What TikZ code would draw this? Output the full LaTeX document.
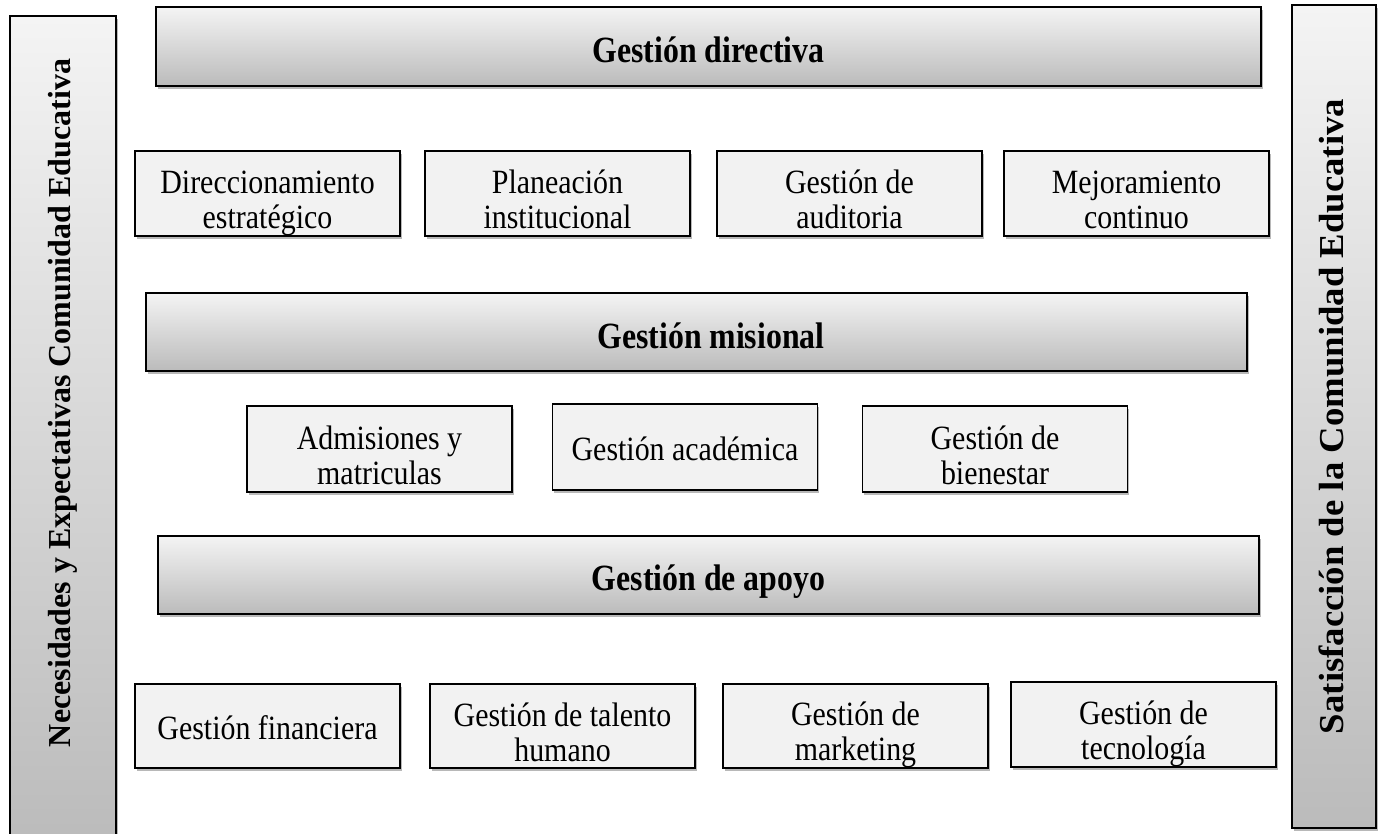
\documentclass[tikz,border=0pt]{standalone}
\usepackage{fontspec}
\setmainfont{Liberation Serif}
\newfontfamily\cfont[FakeStretch=0.88]{Liberation Serif}
\newfontfamily\bfont[FakeStretch=0.86]{Liberation Serif}
\newfontfamily\wfont[FakeStretch=1.05]{Liberation Serif}
\usetikzlibrary{shadows}
\definecolor{boxfill}{HTML}{F2F2F2}
\definecolor{gtop}{HTML}{F4F4F4}
\definecolor{gbot}{HTML}{BBBBBB}
% struts so that every box places its baselines the same way
\newcommand{\twol}[2]{\rule{0pt}{42pt}#1\\#2\rule[-6pt]{0pt}{6pt}}
\newcommand{\onel}[1]{\rule{0pt}{32pt}#1\rule[-6pt]{0pt}{6pt}}
\newcommand{\barl}[1]{\rule{0pt}{39pt}#1\rule[-7pt]{0pt}{7pt}}
\newcommand{\sidel}[1]{\rule{0pt}{22pt}#1}
\begin{document}
\begin{tikzpicture}[x=1pt,y=-1pt,
  base/.style={draw=black, line width=1.6pt, inner sep=0pt, outer sep=0pt},
  shad/.style={drop shadow={shadow xshift=1.5pt, shadow yshift=-3pt, opacity=0.28, fill=black}},
  barfont/.style={font=\bfont\fontsize{37}{42}\selectfont\bfseries},
  bar/.style={base, shad, top color=gtop, bottom color=gbot, barfont},
  sbox/.style={base, shad, fill=boxfill, align=center, minimum width=265pt, font=\cfont\fontsize{34}{35}\selectfont},
  side/.style={base, shad, top color=gtop, bottom color=gbot},
]
\fill[white] (0,0) rectangle (1381,834);
\useasboundingbox (0,0) rectangle (1381,834);

% side columns
\node[side, minimum width=106pt, minimum height=829pt,
  label={[inner sep=0pt, yshift=27.5pt, rotate=90, font=\fontsize{32}{32}\selectfont\bfseries]center:\sidel{Necesidades y Expectativas Comunidad Educativa}}]
  (nec) at (63,430.5) {};
\node[side, minimum width=84pt, minimum height=823pt,
  label={[inner sep=0pt, xshift=-3pt, rotate=90, font=\wfont\fontsize{35}{35}\selectfont\bfseries]center:\sidel{Satisfacción de la Comunidad Educativa}}]
  (sat) at (1334,416.5) {};

% Gestión directiva
\node[bar, minimum width=1105pt, minimum height=79pt] (dir) at (708.5,46.5) {\barl{Gestión directiva}};
\node[sbox, minimum height=85pt] (d1) at (267.5,193.5) {\twol{Direccionamiento}{estratégico}};
\node[sbox, minimum height=85pt] (d2) at (557.5,193.5) {\twol{Planeación}{institucional}};
\node[sbox, minimum height=85pt] (d3) at (849.5,193.5) {\twol{Gestión de}{auditoria}};
\node[sbox, minimum height=85pt] (d4) at (1136.5,193.5) {\twol{Mejoramiento}{continuo}};

% Gestión misional
\node[bar, minimum width=1101pt, minimum height=78pt,
  label={[name=mist, barfont, inner sep=0pt, xshift=14.5pt]center:\barl{Gestión misional}}] (mis) at (696.5,332) {};
\node[sbox, minimum height=86pt] (m1) at (379.5,449) {\twol{Admisiones y}{matriculas}};
\node[sbox, minimum height=86pt] (m2) at (685,447) {\onel{Gestión académica}};
\node[sbox, minimum height=86pt] (m3) at (995,449) {\twol{Gestión de}{bienestar}};

% Gestión de apoyo
\node[bar, minimum width=1101pt, minimum height=78pt] (apo) at (708.5,575) {\barl{Gestión de apoyo}};
\node[sbox, minimum height=84pt] (a1) at (267.5,726) {\onel{Gestión financiera}};
\node[sbox, minimum height=84pt] (a2) at (562.5,726) {\twol{Gestión de talento}{humano}};
\node[sbox, minimum height=84pt] (a3) at (855.5,726) {\twol{Gestión de}{marketing}};
\node[sbox, minimum height=85pt] (a4) at (1143.5,724.5) {\twol{Gestión de}{tecnología}};
\end{tikzpicture}
\end{document}
